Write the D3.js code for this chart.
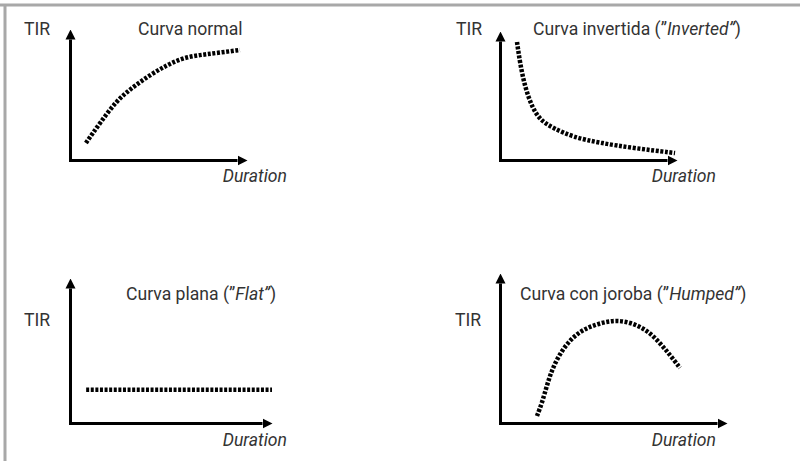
<!DOCTYPE html>
<html><head><meta charset="utf-8">
<script src="https://cdn.jsdelivr.net/npm/d3@7"></script>
<style>
html,body{margin:0;padding:0;background:#fff;}
svg{display:block;}
text{font-family:Roboto,"Noto Sans",sans-serif;fill:#333;}
</style></head><body>
<svg id="c" width="800" height="461"></svg>
<script>
// ---- data ----
const panelTitles = ["Curva normal", "Curva invertida", "Curva plana", "Curva con joroba"];
const panelTitleItalic = ["", "Inverted", "Flat", "Humped"];
const yLabel = "TIR";
const xLabel = "Duration";
const normalX = [0.90,1.69,2.66,3.56,4.52,5.48,6.38,7.34,8.31,9.60];
const normalY = [1.30,2.82,4.58,5.57,6.49,7.25,7.79,8.02,8.17,8.40];
const invertedX = [0.96,1.13,1.41,1.81,2.26,2.99,4.12,5.65,7.51,9.89];
const invertedY = [9.15,7.52,5.66,4.11,3.10,2.48,1.78,1.32,0.93,0.54];
const flatX = [0.8,10.0];
const flatY = [2.3,2.3];
const humpedX = [1.63,1.85,2.07,2.33,2.78,3.39,4.10,4.98,5.73,6.48,7.05,7.49,7.93];
const humpedY = [0.47,1.33,2.53,3.73,5.00,6.00,6.53,6.87,6.73,6.20,5.33,4.53,3.67];
const seriesX = [normalX, invertedX, flatX, humpedX];
const seriesY = [normalY, invertedY, flatY, humpedY];

// ---- layout ----
const layout = [
  {x0:70,  yb:160, tirX:24,  tirY:35,  titX:138, titY:35,  durX:287, durY:182},
  {x0:500, yb:160, tirX:456, tirY:35,  titX:533, titY:35,  durX:716, durY:182},
  {x0:70,  yb:423, tirX:24,  tirY:326, titX:126, titY:300, durX:287, durY:446},
  {x0:500, yb:423, tirX:455, tirY:326, titX:520, titY:300, durX:716, durY:446}
];
// full extents (arrow tip) of each axis
const tips = [
  {xt:247, yt:29}, {xt:677, yt:31}, {xt:272, yt:278}, {xt:727, yt:273}
];
const FS = 17.6;

const svg = d3.select("#c");
// frame
svg.append("line").attr("x1",0).attr("x2",800).attr("y1",5).attr("y2",5)
  .attr("stroke","#a8a8a8").attr("stroke-width",3);
svg.append("line").attr("x1",5).attr("x2",5).attr("y1",4).attr("y2",461)
  .attr("stroke","#a8a8a8").attr("stroke-width",3);

svg.append("defs").append("marker")
  .attr("id","arr").attr("markerUnits","userSpaceOnUse")
  .attr("viewBox","0 0 10 10").attr("refX",0).attr("refY",5)
  .attr("markerWidth",10).attr("markerHeight",11).attr("orient","auto")
  .append("path").attr("d","M0,0 L10,5 L0,10 Z").attr("fill","#000");

layout.forEach((L,i)=>{
  const t = tips[i];
  const x = d3.scaleLinear().domain([0,10]).range([L.x0, t.xt]);
  const y = d3.scaleLinear().domain([0,10]).range([L.yb, t.yt]);
  // axes drawn short of the tip; marker completes them
  const xa = d3.scaleLinear().domain([0,10]).range([L.x0-1.5, t.xt-10]);
  const ya = d3.scaleLinear().domain([0,10]).range([L.yb+1.5, t.yt+10]);
  const gx = svg.append("g").attr("transform",`translate(0,${L.yb})`)
    .call(d3.axisBottom(xa).tickValues([]).tickSizeOuter(0));
  const gy = svg.append("g").attr("transform",`translate(${L.x0},0)`)
    .call(d3.axisLeft(ya).tickValues([]).tickSizeOuter(0));
  [gx,gy].forEach(g=>g.select(".domain").attr("stroke","#000").attr("stroke-width",3)
      .attr("marker-end","url(#arr)"));

  const pts = seriesX[i].map((v,k)=>[v, seriesY[i][k]]);
  svg.append("path").datum(pts)
    .attr("d", d3.line().x(d=>x(d[0])).y(d=>y(d[1])).curve(d3.curveBasis))
    .attr("fill","none").attr("stroke","#000").attr("stroke-width",4.5)
    .attr("stroke-dasharray","3,1.6");

  svg.append("text").attr("x",L.tirX).attr("y",L.tirY).attr("font-size",FS).text(yLabel);
  const tt = svg.append("text").attr("x",L.titX).attr("y",L.titY).attr("font-size",FS);
  tt.append("tspan").text(panelTitles[i]);
  if (panelTitleItalic[i]) {
    tt.append("tspan").text(" (\u201D");
    tt.append("tspan").attr("font-style","italic").text(panelTitleItalic[i] + "\u201D");
    tt.append("tspan").text(")");
  }
  svg.append("text").attr("x",L.durX).attr("y",L.durY).attr("font-size",FS)
    .attr("text-anchor","end").attr("font-style","italic").text(xLabel);
});
</script></body></html>
